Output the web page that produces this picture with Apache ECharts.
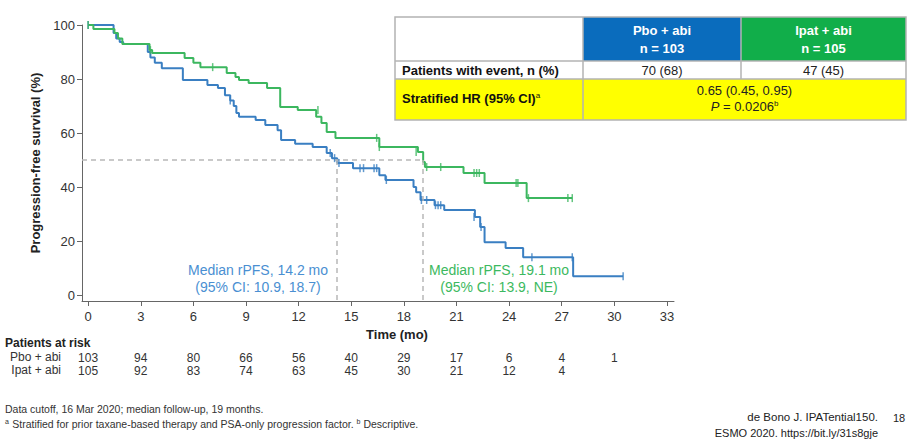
<!DOCTYPE html>
<html>
<head>
<meta charset="utf-8">
<script src="https://cdn.jsdelivr.net/npm/echarts@6/dist/echarts.min.js"></script>
<style>
  html, body { margin: 0; padding: 0; background: #fff; }
  #chart { width: 918px; height: 439px; }
</style>
</head>
<body>
<div id="chart"></div>
<script>
// x ticks (months) and y ticks (%)
const monthTicks = [0, 3, 6, 9, 12, 15, 18, 21, 24, 27, 30, 33]
const pctTicks = [0, 20, 40, 60, 80, 100]

// patients at risk, aligned with monthTicks
const riskPbo = [103, 94, 80, 66, 56, 40, 29, 17, 6, 4, 1]
const riskIpat = [105, 92, 83, 74, 63, 45, 30, 21, 12, 4]

// Kaplan-Meier steps: [month, survival %] (value after the event)
const pboSteps = [
  [0, 100], [1.45, 97], [1.6, 95], [1.8, 93.7], [2.0, 93], [3.4, 90], [3.55, 88],
  [3.8, 86], [4.2, 84], [5.4, 79.6], [6.8, 77.8], [7.4, 76.7], [7.8, 74], [8.1, 72],
  [8.3, 70], [8.45, 67.4], [8.6, 66], [9.55, 64.8], [10.1, 63], [10.8, 61], [11.0, 57.4],
  [11.8, 56], [12.8, 54.8], [13.6, 52.6], [13.9, 50.7], [14.2, 48.9], [15.1, 47],
  [16.6, 44.4], [16.95, 42.6], [18.55, 40], [18.7, 38.1], [18.95, 35.2], [19.75, 33.3],
  [20.3, 31.5], [22.05, 28.9], [22.35, 25.2], [22.6, 19.6], [23.8, 17.4], [24.8, 14],
  [27.65, 7], [30.5, 7]
]
const ipatSteps = [
  [0, 100], [0.3, 98.5], [1.5, 97], [1.7, 95], [1.95, 93], [3.5, 90.7], [3.65, 89.6],
  [5.5, 87.8], [6.0, 86], [6.4, 84.4], [7.9, 82.2], [8.4, 80.7], [8.6, 79.6], [9.15, 78.5],
  [10.2, 76.7], [10.95, 69.6], [11.95, 68.5], [13.0, 66], [13.3, 63.7], [13.6, 60.4],
  [14.1, 58.2], [16.6, 54.8], [18.8, 53], [19.1, 49.3], [19.2, 47.4], [21.4, 45.2],
  [22.6, 41.5], [25.0, 35.9], [27.6, 35.9]
]

// censored observations
const pboCensor = [
  [0, 100], [8.1, 72], [13.8, 52.6], [14.05, 50.7], [14.3, 48.9], [15.5, 47], [15.7, 47],
  [16.3, 47], [16.45, 47], [17.0, 42.6], [19.0, 35.2], [19.3, 35.2], [19.8, 33.3],
  [19.95, 33.3], [20.1, 33.3], [22.0, 28.9], [22.4, 25.2], [25.3, 14], [27.6, 14], [30.5, 7]
]
const ipatCensor = [
  [0, 100], [3.55, 90.7], [7.1, 84.4], [13.1, 68.5], [16.45, 58.2], [16.6, 54.8],
  [18.7, 53], [19.3, 47.4], [20.1, 47.4], [22.0, 45.2], [22.15, 45.2], [22.3, 45.2],
  [24.4, 41.5], [24.5, 41.5], [25.1, 35.9], [27.35, 35.9], [27.6, 35.9]
]

const medianPbo = 14.2
const medianIpat = 19.1

const BLUE = '#3a7fc2'
const GREEN = '#3cb75f'
const FONT = 'Liberation Sans, Arial, sans-serif'
const X_MIN = -0.35, X_MAX = 33.4, Y_MIN = -2.2, Y_MAX = 100

function riskAxis(values, offset) {
  return {
    type: 'value', gridIndex: 0, position: 'bottom', offset,
    min: X_MIN, max: X_MAX,
    axisLine: { show: false }, axisTick: { show: false }, splitLine: { show: false },
    axisLabel: {
      customValues: monthTicks, margin: 8, color: '#333', fontSize: 12, fontFamily: FONT,
      formatter: v => {
        const i = monthTicks.indexOf(Math.round(v))
        return values[i] == null ? '' : String(values[i])
      }
    }
  }
}

const chart = echarts.init(document.getElementById('chart'), null, { renderer: 'svg' })

const tX = 395, tY = 17, c1 = 583, c2 = 741, tR = 906, r1 = 61, r2 = 79, tB = 120
const border = '#b3b3b3'

chart.setOption({
  animation: false,
  backgroundColor: '#fff',
  textStyle: { fontFamily: FONT },
  grid: { left: 82, right: 244, top: 25, bottom: 138 },
  xAxis: [
    {
      type: 'value', min: X_MIN, max: X_MAX,
      name: 'Time (mo)', nameLocation: 'middle', nameGap: 25,
      nameTextStyle: { fontWeight: 'bold', fontSize: 13, color: '#222', padding: [0, 0, 0, 38] },
      axisLine: { onZero: false, lineStyle: { color: '#666', width: 1 } },
      axisTick: { customValues: monthTicks, length: 5, lineStyle: { color: '#666' } },
      axisLabel: { customValues: monthTicks, margin: 9, color: '#333', fontSize: 13 },
      splitLine: { show: false }
    },
    riskAxis(riskPbo, 43),
    riskAxis(riskIpat, 56)
  ],
  yAxis: {
    type: 'value', min: Y_MIN, max: Y_MAX,
    name: 'Progression-free survival (%)', nameLocation: 'middle', nameGap: 33,
    nameTextStyle: { fontWeight: 'bold', fontSize: 13, color: '#222' },
    axisLine: { show: true, onZero: false, lineStyle: { color: '#666', width: 1 } },
    axisTick: { show: true, customValues: pctTicks, length: 5, lineStyle: { color: '#666' } },
    axisLabel: { customValues: pctTicks, margin: 7, color: '#333', fontSize: 13 },
    splitLine: { show: false }
  },
  series: [
    {
      type: 'line', data: [], silent: true,
      markLine: {
        silent: true, symbol: 'none', label: { show: false },
        lineStyle: { color: '#b8b8b8', type: [5, 4], width: 1.5 },
        data: [
          [{ coord: [X_MIN, 50] }, { coord: [medianIpat, 50] }],
          [{ coord: [medianPbo, 50] }, { coord: [medianPbo, Y_MIN] }],
          [{ coord: [medianIpat, 50] }, { coord: [medianIpat, Y_MIN] }]
        ]
      }
    },
    {
      name: 'Pbo + abi', type: 'line', step: 'end', data: pboSteps, showSymbol: false,
      lineStyle: { color: BLUE, width: 2 }, z: 3
    },
    {
      name: 'Ipat + abi', type: 'line', step: 'end', data: ipatSteps, showSymbol: false,
      lineStyle: { color: GREEN, width: 2 }, z: 4
    },
    {
      type: 'scatter', data: pboCensor, symbol: 'rect', symbolSize: [1.5, 8],
      itemStyle: { color: BLUE }, z: 5
    },
    {
      type: 'scatter', data: ipatCensor, symbol: 'rect', symbolSize: [1.5, 8],
      itemStyle: { color: GREEN }, z: 5
    }
  ],
  graphic: [
    // median annotations
    { type: 'text', x: 258, y: 261, style: { text: 'Median rPFS, 14.2 mo\n(95% CI: 10.9, 18.7)', fill: '#4a8fd2', font: '14px ' + FONT, align: 'center', lineHeight: 17 } },
    { type: 'text', x: 499, y: 261, style: { text: 'Median rPFS, 19.1 mo\n(95% CI: 13.9, NE)', fill: '#3cb960', font: '14px ' + FONT, align: 'center', lineHeight: 17 } },

    // patients at risk
    { type: 'text', left: 5, top: 337, style: { text: 'Patients at risk', fill: '#222', font: 'bold 12px ' + FONT } },
    { type: 'text', right: 918 - 61, top: 351, style: { text: 'Pbo + abi', fill: '#333', font: '12px ' + FONT } },
    { type: 'text', right: 918 - 61, top: 364, style: { text: 'Ipat + abi', fill: '#333', font: '12px ' + FONT } },

    // table
    { type: 'rect', shape: { x: c1, y: tY, width: c2 - c1, height: r1 - tY }, style: { fill: '#0a6cbd' } },
    { type: 'rect', shape: { x: c2, y: tY, width: tR - c2, height: r1 - tY }, style: { fill: '#11ae4a' } },
    { type: 'rect', shape: { x: tX, y: r2, width: tR - tX, height: tB - r2 }, style: { fill: '#ffff00' } },
    { type: 'rect', shape: { x: tX, y: tY, width: tR - tX, height: tB - tY }, style: { fill: 'none', stroke: border, lineWidth: 1.5 } },
    { type: 'line', shape: { x1: tX, y1: r1, x2: tR, y2: r1 }, style: { stroke: border, lineWidth: 1.5 } },
    { type: 'line', shape: { x1: tX, y1: r2, x2: tR, y2: r2 }, style: { stroke: border, lineWidth: 1.5 } },
    { type: 'line', shape: { x1: c1, y1: tY, x2: c1, y2: tB }, style: { stroke: border, lineWidth: 1.5 } },
    { type: 'line', shape: { x1: c2, y1: tY, x2: c2, y2: r2 }, style: { stroke: border, lineWidth: 1.5 } },
    { type: 'text', x: (c1 + c2) / 2, y: 39, style: { text: 'Pbo + abi\nn = 103', fill: '#fff', font: 'bold 13px ' + FONT, align: 'center', verticalAlign: 'middle', lineHeight: 18 } },
    { type: 'text', x: (c2 + tR) / 2, y: 39, style: { text: 'Ipat + abi\nn = 105', fill: '#fff', font: 'bold 13px ' + FONT, align: 'center', verticalAlign: 'middle', lineHeight: 18 } },
    { type: 'text', x: 402, y: 70, style: { text: 'Patients with event, n (%)', fill: '#111', font: 'bold 13px ' + FONT, verticalAlign: 'middle' } },
    { type: 'text', x: (c1 + c2) / 2, y: 70, style: { text: '70 (68)', fill: '#222', font: '13px ' + FONT, align: 'center', verticalAlign: 'middle' } },
    { type: 'text', x: (c2 + tR) / 2, y: 70, style: { text: '47 (45)', fill: '#222', font: '13px ' + FONT, align: 'center', verticalAlign: 'middle' } },
    {
      type: 'text', x: 402, y: 98,
      style: {
        text: '{b|Stratified HR (95% CI)}{s|a}', verticalAlign: 'middle',
        rich: { b: { fill: '#111', font: 'bold 13px ' + FONT }, s: { fill: '#111', font: '8px ' + FONT, verticalAlign: 'top' } }
      }
    },
    { type: 'text', x: (c1 + tR) / 2, y: 90, style: { text: '0.65 (0.45, 0.95)', fill: '#222', font: '13px ' + FONT, align: 'center', verticalAlign: 'middle' } },
    {
      type: 'text', x: (c1 + tR) / 2, y: 106,
      style: {
        text: '{i|P}{n| = 0.0206}{s|b}', align: 'center', verticalAlign: 'middle',
        rich: { i: { fill: '#222', font: 'italic 13px ' + FONT }, n: { fill: '#222', font: '13px ' + FONT }, s: { fill: '#222', font: '8px ' + FONT, verticalAlign: 'top' } }
      }
    },

    // footnotes
    { type: 'text', left: 5, top: 403, style: { text: 'Data cutoff, 16 Mar 2020; median follow-up, 19 months.', fill: '#333', font: '10.5px ' + FONT } },
    {
      type: 'text', left: 5, top: 418,
      style: {
        text: '{s|a} {t|Stratified for prior taxane-based therapy and PSA-only progression factor. }{s|b}{t| Descriptive.}',
        rich: { t: { fill: '#333', font: '10.5px ' + FONT }, s: { fill: '#333', font: '7px ' + FONT, verticalAlign: 'top' } }
      }
    },
    { type: 'text', right: 40, top: 411, style: { text: 'de Bono J. IPATential150.', fill: '#222', font: '11.5px ' + FONT } },
    { type: 'text', right: 40, top: 427, style: { text: 'ESMO 2020. https://bit.ly/31s8gje', fill: '#222', font: '11px ' + FONT } },
    { type: 'text', left: 893, top: 412, style: { text: '18', fill: '#222', font: '11px ' + FONT } }
  ]
})
</script>
</body>
</html>
